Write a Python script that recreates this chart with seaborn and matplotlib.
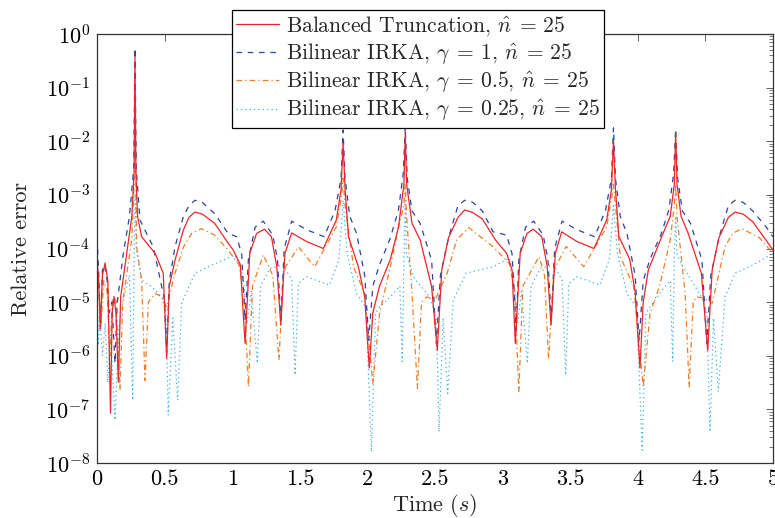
import matplotlib
matplotlib.use("Agg")
import numpy as np
import pandas as pd
import seaborn as sns
import matplotlib.pyplot as plt
from matplotlib.ticker import FixedLocator, FixedFormatter, LogLocator, NullLocator

# ---------------- data (log10 of relative error) ----------------
bt_t = [0, 0.012, 0.025, 0.04, 0.06, 0.08, 0.10, 0.112, 0.126, 0.14, 0.158, 0.175, 0.22, 0.257,
        0.274, 0.281, 0.288, 0.30, 0.33, 0.43, 0.49, 0.515, 0.535, 0.577, 0.638, 0.68, 0.725, 0.78,
        0.87, 0.97, 1.008, 1.06, 1.095, 1.13, 1.18, 1.238, 1.29, 1.33, 1.359, 1.39, 1.44, 1.55,
        1.674, 1.77, 1.805, 1.82, 1.835, 1.86, 1.933, 1.98, 2.014, 2.04, 2.09, 2.17, 2.23, 2.27,
        2.28, 2.29, 2.33, 2.39, 2.475, 2.517, 2.55, 2.6, 2.67, 2.72, 2.78, 2.85, 2.95, 3.03, 3.07,
        3.094, 3.13, 3.18, 3.227, 3.29, 3.33, 3.358, 3.39, 3.437, 3.55, 3.676, 3.77, 3.805, 3.82,
        3.835, 3.86, 3.94, 3.98, 4.016, 4.04, 4.078, 4.177, 4.24, 4.27, 4.28, 4.29, 4.32, 4.373,
        4.47, 4.517, 4.55, 4.6, 4.67, 4.72, 4.78, 4.85, 4.95, 5.0]
bt_log = [-4.2, -4.6, -5.5, -4.5, -4.27, -4.6, -7.07, -5.2, -4.9, -5.2, -6.49, -4.9, -4.09, -3.41,
          -2.6, -0.42, -2.6, -3.4, -3.78, -4.09, -4.46, -6.05, -4.7, -4.22, -3.66, -3.42, -3.32, -3.36,
          -3.53, -3.9, -4.03, -4.3, -5.77, -4.09, -3.72, -3.64, -3.78, -4.34, -5.43, -4.09, -3.71, -3.87,
          -4.0, -3.47, -2.9, -2.03, -2.9, -3.78, -4.34, -4.9, -6.23, -5.2, -4.7, -4.2, -3.6, -2.8,
          -1.85, -2.8, -3.53, -3.84, -4.71, -5.9, -4.4, -3.8, -3.42, -3.28, -3.33, -3.45, -3.85, -4.09, -4.4,
          -5.77, -4.09, -3.72, -3.64, -3.78, -4.34, -5.43, -4.09, -3.69, -3.87, -4.0, -3.47, -2.9, -1.98,
          -2.9, -3.78, -4.2, -4.8, -6.23, -5.0, -4.4, -3.78, -3.4, -2.8, -1.85, -2.8, -3.4, -3.72,
          -4.46, -5.9, -4.4, -3.8, -3.42, -3.32, -3.36, -3.5, -3.85, -4.03]

g1_t = [0, 0.012, 0.025, 0.04, 0.055, 0.075, 0.09, 0.11, 0.133, 0.15, 0.195, 0.24, 0.272, 0.281,
        0.29, 0.318, 0.416, 0.50, 0.515, 0.535, 0.577, 0.638, 0.68, 0.725, 0.78, 0.87, 0.97, 1.033,
        1.07, 1.095, 1.12, 1.17, 1.23, 1.3, 1.335, 1.36, 1.385, 1.44, 1.55, 1.68, 1.76, 1.805, 1.82,
        1.835, 1.87, 1.92, 1.98, 2.01, 2.04, 2.09, 2.17, 2.23, 2.265, 2.28, 2.295, 2.33, 2.39, 2.475,
        2.51, 2.54, 2.6, 2.67, 2.72, 2.78, 2.85, 2.93, 3.03, 3.07, 3.10, 3.12, 3.17, 3.23, 3.3, 3.335,
        3.36, 3.385, 3.44, 3.55, 3.68, 3.76, 3.805, 3.82, 3.835, 3.87, 3.92, 3.98, 4.01, 4.04, 4.09,
        4.17, 4.23, 4.265, 4.28, 4.295, 4.33, 4.39, 4.475, 4.51, 4.54, 4.6, 4.67, 4.72, 4.78, 4.85,
        4.95, 5.0]
g1_log = [-3.8, -4.4, -5.5, -4.4, -4.3, -4.6, -5.2, -5.0, -6.14, -5.0, -4.09, -3.4, -2.5, -0.26,
          -2.5, -3.47, -3.97, -4.96, -5.95, -4.6, -3.97, -3.41, -3.2, -3.10, -3.14, -3.35, -3.72, -3.78,
          -4.1, -5.34, -4.2, -3.6, -3.49, -3.75, -4.2, -5.34, -4.0, -3.49, -3.65, -3.78, -3.3, -2.7, -1.79,
          -2.7, -3.4, -3.72, -4.5, -5.71, -4.7, -4.3, -3.8, -3.28, -2.6, -1.73, -2.7, -3.3, -3.53, -4.22,
          -5.77, -4.5, -3.8, -3.2, -3.10, -3.14, -3.3, -3.69, -3.75, -4.1, -5.52, -4.2, -3.6, -3.49, -3.75, -4.2,
          -5.34, -4.0, -3.49, -3.65, -3.78, -3.3, -2.7, -1.75, -2.7, -3.4, -3.72, -4.5, -5.71, -4.6, -4.2,
          -3.75, -3.28, -2.6, -1.77, -2.7, -3.3, -3.53, -4.22, -5.77, -4.5, -3.8, -3.2, -3.10, -3.14, -3.3,
          -3.6, -3.78]

g05_t = [0, 0.015, 0.03, 0.05, 0.075, 0.095, 0.115, 0.138, 0.17, 0.19, 0.23, 0.257, 0.275, 0.281,
         0.288, 0.293, 0.33, 0.355, 0.38, 0.43, 0.48, 0.515, 0.577, 0.64, 0.7, 0.774, 0.87, 0.97, 1.05,
         1.09, 1.12, 1.15, 1.23, 1.3, 1.346, 1.38, 1.49, 1.61, 1.77, 1.81, 1.82, 1.835, 1.897, 1.98,
         2.04, 2.09, 2.17, 2.23, 2.27, 2.28, 2.29, 2.33, 2.37, 2.40, 2.44, 2.5, 2.59, 2.66, 2.75,
         2.93, 3.05, 3.09, 3.12, 3.15, 3.27, 3.31, 3.34, 3.38, 3.47, 3.6, 3.77, 3.81, 3.82, 3.835,
         3.87, 3.97, 4.04, 4.09, 4.16, 4.24, 4.27, 4.28, 4.29, 4.35, 4.38, 4.41, 4.435, 4.49, 4.55,
         4.6, 4.645, 4.7, 4.77, 4.9, 5.0]
g05_log = [-4.4, -4.8, -5.4, -4.6, -4.8, -6.0, -4.9, -4.9, -6.64, -5.0, -4.3, -3.84, -2.8, -1.15,
           -2.8, -3.97, -4.59, -6.46, -5.0, -4.84, -4.9, -5.09, -4.46, -3.97, -3.72, -3.63, -3.75, -4.03, -4.3,
           -4.9, -6.58, -4.7, -4.12, -4.5, -6.08, -4.4, -3.97, -4.34, -3.6, -3.0, -2.69, -3.2, -4.34, -4.84,
           -6.52, -5.21, -4.34, -3.6, -3.2, -2.8, -3.4, -4.84, -6.61, -5.0, -4.9, -4.96, -4.46, -3.84, -3.61,
           -3.97, -4.28, -4.8, -6.67, -4.7, -4.15, -4.5, -6.05, -4.4, -3.96, -4.34, -3.6, -3.0, -2.8, -3.2,
           -4.15, -4.71, -6.58, -5.21, -4.71, -3.84, -3.2, -2.8, -3.4, -4.84, -6.58, -5.0, -4.9, -4.93, -5.02,
           -4.46, -3.97, -3.72, -3.63, -3.8, -4.09]

g025_t = [0, 0.01, 0.02, 0.04, 0.06, 0.08, 0.10, 0.133, 0.16, 0.2, 0.24, 0.264, 0.275, 0.281, 0.29,
          0.33, 0.404, 0.478, 0.51, 0.527, 0.56, 0.597, 0.626, 0.725, 0.85, 1.02, 1.08, 1.11, 1.14,
          1.186, 1.21, 1.28, 1.378, 1.44, 1.465, 1.49, 1.55, 1.72, 1.79, 1.82, 1.85, 1.92, 1.99, 2.03,
          2.06, 2.09, 2.17, 2.24, 2.258, 2.27, 2.28, 2.29, 2.34, 2.46, 2.51, 2.53, 2.56, 2.594, 2.635,
          2.73, 2.93, 3.05, 3.08, 3.11, 3.14, 3.183, 3.21, 3.28, 3.38, 3.44, 3.467, 3.49, 3.55, 3.72,
          3.79, 3.82, 3.85, 3.92, 3.99, 4.033, 4.06, 4.127, 4.2, 4.24, 4.258, 4.27, 4.28, 4.29, 4.32,
          4.47, 4.51, 4.534, 4.56, 4.595, 4.645, 4.72, 4.85, 5.0]
g025_log = [-5.0, -5.8, -5.2, -6.0, -5.4, -6.5, -5.6, -7.2, -5.5, -4.9, -4.5, -6.83, -4.0, -2.97, -4.0,
            -4.59, -4.71, -4.9, -5.2, -7.11, -5.3, -6.83, -5.02, -4.46, -4.31, -4.12, -4.5, -5.4, -4.8,
            -6.14, -4.7, -4.37, -4.31, -4.59, -6.36, -4.65, -4.53, -4.68, -4.2, -3.1, -4.1, -4.84, -5.1, -7.79,
            -5.2, -5.09, -4.9, -4.7, -6.11, -4.2, -3.1, -4.1, -4.53, -4.9, -5.3, -7.42, -5.3, -6.7, -4.96,
            -4.46, -4.34, -4.18, -4.5, -5.4, -4.8, -6.14, -4.7, -4.37, -4.31, -4.59, -6.36, -4.65, -4.53, -4.68,
            -4.2, -3.2, -4.1, -4.84, -5.1, -7.76, -5.2, -4.96, -4.71, -4.6, -6.11, -4.2, -3.4, -4.1, -4.28,
            -4.9, -5.2, -7.42, -5.3, -6.67, -4.9, -4.46, -4.31, -4.09]

labels = [r"Balanced Truncation, $\hat{n}\;=\,25$",
          r"Bilinear IRKA, $\gamma\;=\,1$, $\hat{n}\;=\,25$",
          r"Bilinear IRKA, $\gamma\;=\,0.5$, $\hat{n}\;=\,25$",
          r"Bilinear IRKA, $\gamma\;=\,0.25$, $\hat{n}\;=\,25$"]
xticks = [0, 0.5, 1, 1.5, 2, 2.5, 3, 3.5, 4, 4.5, 5]
xticklabels = ["0", "0.5", "1", "1.5", "2", "2.5", "3", "3.5", "4", "4.5", "5"]

# ---------------- style ----------------
sns.set_theme(style="white")
plt.rcParams.update({
    "font.family": ["cmr10", "DejaVu Serif"],
    "mathtext.fontset": "cm",
    "axes.formatter.use_mathtext": True,
    "axes.unicode_minus": False,
})

fig = plt.figure(figsize=(7.75, 5.18), dpi=100)
ax = fig.add_axes([97 / 775, 55 / 518, 676 / 775, 429 / 518])

series = [
    (bt_t, bt_log, "#e8262b", dict(linestyle="-")),
    (g1_t, g1_log, "#2c45a0", dict(dashes=(4.5, 4.5))),
    (g05_t, g05_log, "#f07d24", dict(dashes=(4.5, 2.5, 1.0, 2.5))),
    (g025_t, g025_log, "#3db2e2", dict(dashes=(1.0, 2.5))),
]
order = [3, 2, 1, 0]
for i in order:
    t, lg, col, ls = series[i]
    df = pd.DataFrame({"t": t, "err": np.power(10.0, np.array(lg))})
    sns.lineplot(data=df, x="t", y="err", ax=ax, color=col, linewidth=0.9,
                 estimator=None, sort=True, label=labels[i], **ls)

ax.set_yscale("log")
ax.set_xlim(0, 5)
ax.set_ylim(1e-8, 1e0)
ax.xaxis.set_major_locator(FixedLocator(xticks))
ax.xaxis.set_major_formatter(FixedFormatter(xticklabels))
ax.xaxis.set_minor_locator(NullLocator())
ax.yaxis.set_major_locator(LogLocator(base=10, numticks=20))
ax.yaxis.set_minor_locator(LogLocator(base=10, subs=np.arange(2, 10), numticks=20))

ax.tick_params(which="both", direction="in", top=True, right=True, colors="#444444",
               labelsize=16, labelcolor="black")
ax.tick_params(which="major", length=5, width=0.6, pad=5)
ax.tick_params(which="minor", length=3, width=0.5)
for s in ax.spines.values():
    s.set_color("#333333")
    s.set_linewidth(0.9)

ax.set_xlabel(r"Time ($s$)", fontsize=16, labelpad=2)
ax.set_ylabel("Relative error", fontsize=16, labelpad=10)

h, l = ax.get_legend_handles_labels()
hm = dict(zip(l, h))
leg = ax.legend([hm[x] for x in labels], labels, loc="upper center",
                bbox_to_anchor=(0.475, 1.056), fontsize=15.5, frameon=True, fancybox=False,
                edgecolor="black", framealpha=1, handlelength=2.0, handletextpad=0.3,
                labelspacing=0.15, borderpad=0.2, borderaxespad=0)
leg.get_frame().set_linewidth(0.9)
leg.set_zorder(10)

fig.savefig("out.png", dpi=100)
